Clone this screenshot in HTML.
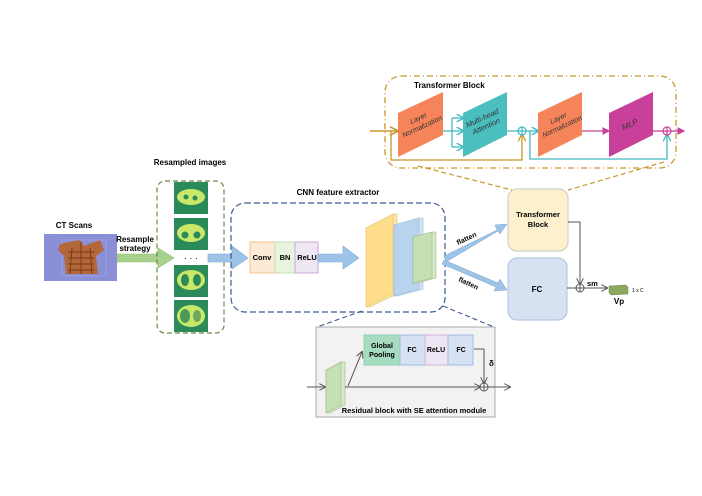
<!DOCTYPE html>
<html><head><meta charset="utf-8"><style>
html,body{margin:0;padding:0;background:#fff;}
svg{display:block;font-family:"Liberation Sans",sans-serif;}
.b{font-weight:bold;}
</style></head><body>
<svg width="702" height="496" viewBox="0 0 702 496" xmlns="http://www.w3.org/2000/svg">
<defs>
<marker id="ag" markerWidth="6" markerHeight="6" refX="5" refY="3" orient="auto"><path d="M0,0 L6,3 L0,6" fill="none" stroke="#c8962a" stroke-width="1"/></marker>
<marker id="at" markerWidth="6" markerHeight="6" refX="5" refY="3" orient="auto"><path d="M0,0 L6,3 L0,6" fill="none" stroke="#3db8c0" stroke-width="1"/></marker>
<marker id="am" markerWidth="6" markerHeight="6" refX="5" refY="3" orient="auto"><path d="M0,0 L6,3 L0,6 z" fill="#c9409a"/></marker>
<marker id="ak" markerWidth="7" markerHeight="7" refX="6" refY="3.5" orient="auto"><path d="M0,0 L7,3.5 L0,7" fill="none" stroke="#555" stroke-width="1"/></marker>
</defs>

<!-- Transformer block detail -->
<rect x="385" y="76" width="291" height="92" rx="16" fill="none" stroke="#c8962a" stroke-width="1.3" stroke-dasharray="6,3,1,3"/>
<line x1="418" y1="166" x2="512" y2="190" stroke="#c8962a" stroke-width="1.2" stroke-dasharray="5,3"/>
<line x1="664" y1="162" x2="568" y2="190" stroke="#c8962a" stroke-width="1.2" stroke-dasharray="5,3"/>
<text x="414" y="88" font-size="8" class="b">Transformer Block</text>
<line x1="370" y1="131" x2="397" y2="131" stroke="#c8962a" stroke-width="1.5" marker-end="url(#ag)"/>
<polyline points="391,131 391,160 522,160 522,135" fill="none" stroke="#c8962a" stroke-width="1.3" marker-end="url(#ag)"/>
<line x1="443" y1="131" x2="452" y2="131" stroke="#3db8c0" stroke-width="1.3"/>
<line x1="452" y1="118" x2="452" y2="147" stroke="#3db8c0" stroke-width="1.3"/>
<line x1="452" y1="118" x2="463" y2="118" stroke="#3db8c0" stroke-width="1.3" marker-end="url(#at)"/>
<line x1="452" y1="131" x2="463" y2="131" stroke="#3db8c0" stroke-width="1.3" marker-end="url(#at)"/>
<line x1="452" y1="147" x2="463" y2="147" stroke="#3db8c0" stroke-width="1.3" marker-end="url(#at)"/>
<line x1="507" y1="131" x2="518" y2="131" stroke="#3db8c0" stroke-width="1.3"/>
<line x1="526" y1="131" x2="538" y2="131" stroke="#3db8c0" stroke-width="1.3" marker-end="url(#at)"/>
<polyline points="530,131 530,159 667,159 667,135" fill="none" stroke="#3db8c0" stroke-width="1.3" marker-end="url(#at)"/>
<line x1="582" y1="131" x2="609" y2="131" stroke="#c9409a" stroke-width="1.3" marker-end="url(#am)"/>
<line x1="653" y1="131" x2="663" y2="131" stroke="#c9409a" stroke-width="1.3"/>
<line x1="671" y1="131" x2="684" y2="131" stroke="#c9409a" stroke-width="1.3" marker-end="url(#am)"/>
<circle cx="522" cy="131" r="4" fill="#fff" stroke="#3db8c0" stroke-width="1.2"/>
<path d="M518,131h8M522,127v8" stroke="#3db8c0" stroke-width="1.2"/>
<circle cx="667" cy="131" r="4" fill="#fff" stroke="#c9409a" stroke-width="1.2"/>
<path d="M663,131h8M667,127v8" stroke="#c9409a" stroke-width="1.2"/>
<polygon points="398,113 443,92 443,135 398,157" fill="#f5845a"/>
<polygon points="463,113 507,92 507,135 463,157" fill="#4bbfbf"/>
<polygon points="538,113 582,92 582,135 538,157" fill="#f5845a"/>
<polygon points="609,113 653,92 653,135 609,157" fill="#c9409a"/>
<g font-size="7" font-style="italic" fill="#333" text-anchor="middle">
<text transform="translate(421,124) rotate(-25)"><tspan x="0" y="-4">Layer</tspan><tspan x="0" y="5">Normalization</tspan></text>
<text transform="translate(485,124) rotate(-25)" font-size="7.5"><tspan x="0" y="-4">Multi-head</tspan><tspan x="0" y="5">Attention</tspan></text>
<text transform="translate(561,124) rotate(-25)"><tspan x="0" y="-4">Layer</tspan><tspan x="0" y="5">Normalization</tspan></text>
<text transform="translate(631,127) rotate(-25)" font-size="8">MLP</text>
</g>

<!-- CT scans -->
<text x="74" y="228" font-size="8" class="b" text-anchor="middle">CT Scans</text>
<rect x="44" y="234" width="73" height="47" fill="#8a8fd6"/>
<rect x="62" y="240" width="44" height="36" fill="none" stroke="#a9aef0" stroke-width="0.6"/>
<path d="M60,244 L80,240 L84,246 L100,240 L104,250 L96,256 L98,274 L66,274 L64,256 L58,250 Z" fill="#b4683a"/>
<path d="M68,252 L94,252 M68,258 L94,258 M68,264 L94,264 M68,270 L94,270 M81,242 L81,274 M72,248 L70,274 M90,248 L92,274" stroke="#7a3a18" stroke-width="1"/>
<text x="135" y="242" font-size="8" class="b" text-anchor="middle">Resample</text>
<text x="135" y="251" font-size="8" class="b" text-anchor="middle">strategy</text>
<polygon points="117,254 158,254 158,248 174,258 158,268 158,262 117,262" fill="#a9d18e" stroke="#8cbf6c" stroke-width="0.6"/>

<!-- resampled images -->
<text x="190" y="165" font-size="8" class="b" text-anchor="middle">Resampled images</text>
<rect x="157" y="181" width="67" height="152" rx="8" fill="none" stroke="#6b8a45" stroke-width="1.2" stroke-dasharray="5,3"/>
<g>
<rect x="174" y="182" width="34" height="32" fill="#2b8a5a"/><ellipse cx="191" cy="197" rx="14" ry="8" fill="#c9e86a"/><circle cx="186" cy="197" r="2.5" fill="#2b8a5a"/><circle cx="195" cy="198" r="2.5" fill="#2b8a5a"/>
<rect x="174" y="218" width="34" height="32" fill="#2b8a5a"/><ellipse cx="191" cy="233" rx="14" ry="9" fill="#c9e86a"/><circle cx="185" cy="235" r="3.5" fill="#2b8a5a"/><circle cx="197" cy="235" r="3.5" fill="#2b8a5a"/>
<text x="191" y="261" font-size="9" text-anchor="middle">· · ·</text>
<rect x="174" y="265" width="34" height="32" fill="#2b8a5a"/><ellipse cx="191" cy="280" rx="14" ry="10" fill="#c9e86a"/><ellipse cx="185" cy="280" rx="4" ry="6" fill="#2b8a5a"/><ellipse cx="197" cy="280" rx="4" ry="6" fill="#2b8a5a"/>
<rect x="174" y="300" width="34" height="32" fill="#2b8a5a"/><ellipse cx="191" cy="316" rx="14" ry="11" fill="#c9e86a"/><ellipse cx="185" cy="316" rx="5" ry="7" fill="#4c9a5a"/><ellipse cx="197" cy="316" rx="4" ry="6" fill="#6aa860"/>
</g>
<polygon points="208,254 232,254 232,246 248,258 232,269 232,262 208,262" fill="#9dc3e6" stroke="#7fa9d4" stroke-width="0.6"/>

<!-- CNN -->
<text x="338" y="195" font-size="8" class="b" text-anchor="middle">CNN feature extractor</text>
<rect x="231" y="203" width="214" height="109" rx="14" fill="none" stroke="#3c5a91" stroke-width="1.2" stroke-dasharray="6,3"/>
<rect x="250" y="242" width="25" height="31" fill="#fde9d4" stroke="#f5c48a"/>
<rect x="275" y="242" width="20" height="31" fill="#e8f4de" stroke="#c5e0b4"/>
<rect x="295" y="242" width="23" height="31" fill="#efe6f3" stroke="#c9a9d3"/>
<g font-size="7.5" class="b" text-anchor="middle"><text x="262" y="260">Conv</text><text x="285" y="260">BN</text><text x="307" y="260">ReLU</text></g>
<polygon points="318,254 343,254 343,246 359,258 343,269 343,262 318,262" fill="#9dc3e6" stroke="#7fa9d4" stroke-width="0.6"/>
<polygon points="366,228 393,214 397,214 397,294 370,307 366,307" fill="#fbe3a0" stroke="#e0c67a" stroke-width="0.6"/>
<polygon points="366,228 393,214 393,293 366,307" fill="#ffdd8a" stroke="#e0c67a" stroke-width="0.6"/>
<polygon points="394,225 419,218 423,218 423,289 398,296 394,296" fill="#d2e3f3" stroke="#9db8d6" stroke-width="0.6"/>
<polygon points="394,225 419,218 419,289 394,296" fill="#b8d3ee" stroke="#9db8d6" stroke-width="0.6"/>
<polygon points="413,237 432,232 436,232 436,278 417,283 413,283" fill="#d6e8c8" stroke="#9fb889" stroke-width="0.6"/>
<polygon points="413,237 432,232 432,278 413,283" fill="#c5e0b4" stroke="#9fb889" stroke-width="0.6"/>

<polygon points="444,256 497,230 495,225 507,224 500,234 498,231 446,262" fill="#9dc3e6" stroke="#7fa9d4" stroke-width="0.5"/>
<polygon points="444,260 498,283 500,279 507,290 494,291 496,287 442,264" fill="#9dc3e6" stroke="#7fa9d4" stroke-width="0.5"/>
<text transform="translate(458,245) rotate(-25)" font-size="7" class="b">flatten</text>
<text transform="translate(458,281) rotate(25)" font-size="7" class="b">flatten</text>

<rect x="508" y="189" width="60" height="62" rx="9" fill="#fdf0cc" stroke="#c9c9c9"/>
<text x="538" y="217" font-size="7.5" class="b" text-anchor="middle">Transformer</text>
<text x="538" y="227" font-size="7.5" class="b" text-anchor="middle">Block</text>
<rect x="508" y="258" width="59" height="62" rx="9" fill="#d6e2f2" stroke="#a9c0e0"/>
<text x="537" y="292" font-size="8" class="b" text-anchor="middle">FC</text>
<polyline points="568,222 580,222 580,284" fill="none" stroke="#555" stroke-width="1" marker-end="url(#ak)"/>
<line x1="567" y1="288" x2="576" y2="288" stroke="#555" stroke-width="1"/>
<circle cx="580" cy="288" r="4" fill="#fff" stroke="#555"/>
<path d="M576,288h8M580,284v8" stroke="#555"/>
<line x1="584" y1="288" x2="607" y2="288" stroke="#555" stroke-width="1" marker-end="url(#ak)"/>
<text x="587" y="286" font-size="7.5" class="b">sm</text>
<polygon points="609,286 626,285 628,287 628,294 611,295 609,293" fill="#8aa860" stroke="#6a8a45" stroke-width="0.5"/>
<text x="632" y="292" font-size="5">1 x C</text>
<text x="619" y="304" font-size="8" class="b" text-anchor="middle">Vp</text>

<line x1="362" y1="311" x2="317" y2="327" stroke="#3c5a91" stroke-width="1.1" stroke-dasharray="5,3"/>
<line x1="443" y1="306" x2="494" y2="327" stroke="#3c5a91" stroke-width="1.1" stroke-dasharray="5,3"/>
<rect x="316" y="327" width="179" height="90" fill="#f2f2f2" stroke="#aaa"/>
<rect x="364" y="335" width="36" height="30" fill="#a8dcc0" stroke="#8fd0b0"/>
<rect x="400" y="335" width="25" height="30" fill="#d6e2f2" stroke="#9db8e6"/>
<rect x="425" y="335" width="23" height="30" fill="#efe6f3" stroke="#d2b4e0"/>
<rect x="448" y="335" width="25" height="30" fill="#d6e2f2" stroke="#9db8e6"/>
<g font-size="7" class="b" text-anchor="middle"><text x="382" y="348">Global</text><text x="382" y="357">Pooling</text><text x="412" y="352">FC</text><text x="436" y="352">ReLU</text><text x="461" y="352">FC</text></g>
<polyline points="474,349 484,349 484,383" fill="none" stroke="#555" marker-end="url(#ak)"/>
<text x="489" y="366" font-size="8" class="b">δ</text>
<line x1="307" y1="387" x2="325" y2="387" stroke="#555" marker-end="url(#ak)"/>
<polygon points="326,370 341,362 345,362 345,405 330,413 326,413" fill="#d6e8c8" stroke="#9fb889" stroke-width="0.6"/>
<polygon points="326,370 341,362 341,405 326,413" fill="#c5e0b4" stroke="#9fb889" stroke-width="0.6"/>
<line x1="345" y1="387" x2="480" y2="387" stroke="#555" marker-end="url(#ak)"/>
<line x1="348" y1="386" x2="362" y2="352" stroke="#555" marker-end="url(#ak)"/>
<circle cx="484" cy="387" r="4" fill="#fff" stroke="#555"/>
<path d="M480,387h8M484,383v8" stroke="#555"/>
<line x1="488" y1="387" x2="510" y2="387" stroke="#555" marker-end="url(#ak)"/>
<text x="414" y="413" font-size="7.5" class="b" text-anchor="middle">Residual block with SE attention module</text>
</svg>
</body></html>
